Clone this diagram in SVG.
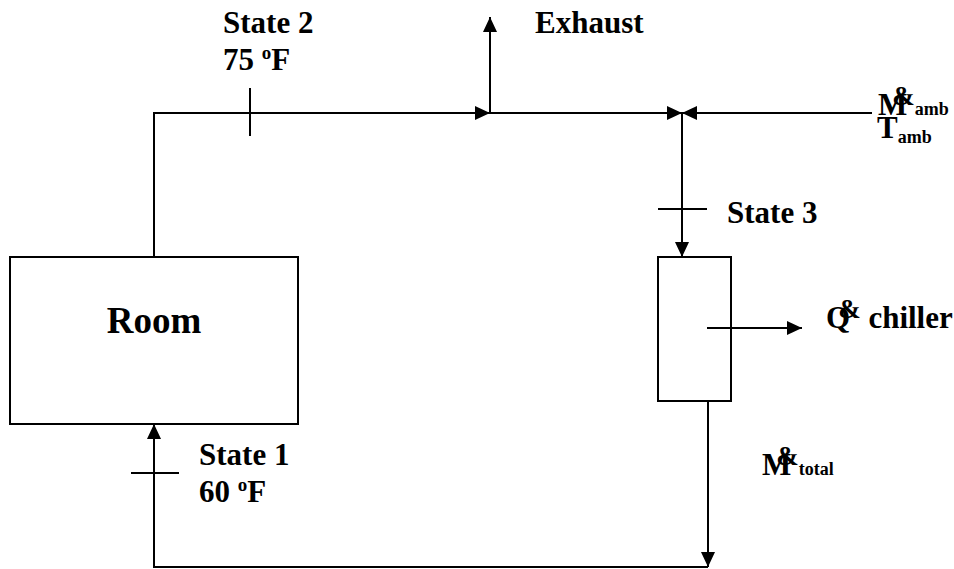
<svg xmlns="http://www.w3.org/2000/svg" width="954" height="569" viewBox="0 0 954 569">
  <style>
    .ln { fill: none; stroke: #000; stroke-width: 2; }
    .box { fill: #fff; stroke: #000; stroke-width: 2; }
    .big { font-size: 37px; }
    .sub { font-size: 18px; }
    .sup { font-size: 19px; }
    .dot { font-size: 27px; }
  </style>
  <defs>
    <marker id="ah" markerUnits="userSpaceOnUse" markerWidth="16" markerHeight="16" refX="15" refY="7" orient="auto">
      <path d="M0,0 L15,7 L0,14 Z" fill="#000"/>
    </marker>
  </defs>

  <!-- flow lines -->
  <g id="connectors">
    <path class="ln" d="M154,257 V113 H490" marker-end="url(#ah)"/>
    <path class="ln" d="M490,113 V17" marker-end="url(#ah)"/>
    <path class="ln" d="M490,113 H682" marker-end="url(#ah)"/>
    <path class="ln" d="M872,113 H682" marker-end="url(#ah)"/>
    <path class="ln" d="M682,113 V257" marker-end="url(#ah)"/>
    <path class="ln" d="M707,328 H802" marker-end="url(#ah)"/>
    <path class="ln" d="M708,401 V567" marker-end="url(#ah)"/>
    <path class="ln" d="M708,567 H154 V424" marker-end="url(#ah)"/>
    <!-- state markers -->
    <path class="ln" d="M250,88 V136"/>
    <path class="ln" d="M658,209 H707"/>
    <path class="ln" d="M131,473 H179"/>
  </g>

  <g font-family="'Liberation Serif', 'Times New Roman', Times, serif" font-weight="bold" font-size="31" fill="#000">
    <g id="room">
      <rect class="box" x="10" y="257" width="288" height="167"/>
      <text class="big" x="154" y="333" text-anchor="middle">Room</text>
    </g>

    <g id="chiller">
      <rect class="box" x="658" y="257" width="73" height="144"/>
      <path class="ln" d="M707,328 H731"/>
    </g>

    <g id="state2">
      <text x="223" y="33">State 2</text>
      <text x="223" y="70">75 <tspan class="sup" dy="-11">o</tspan><tspan dy="11">F</tspan></text>
    </g>

    <g id="exhaust">
      <text x="535" y="33">Exhaust</text>
    </g>

    <g id="ambient">
      <text x="878" y="115">M<tspan class="dot" dx="-15" dy="-10">&amp;</tspan><tspan class="sub" dx="0" dy="10">amb</tspan></text>
      <text x="877" y="138">T<tspan class="sub" dy="5">amb</tspan></text>
    </g>

    <g id="state3">
      <text x="727" y="223">State 3</text>
    </g>

    <g id="heat">
      <text x="826" y="328">Q<tspan class="dot" dx="-12" dy="-10">&amp;</tspan><tspan dy="10"> chiller</tspan></text>
    </g>

    <g id="state1">
      <text x="199" y="465">State 1</text>
      <text x="199" y="502">60 <tspan class="sup" dy="-11">o</tspan><tspan dy="11">F</tspan></text>
    </g>

    <g id="total">
      <text x="762" y="475">M<tspan class="dot" dx="-15" dy="-10">&amp;</tspan><tspan class="sub" dx="0" dy="10">total</tspan></text>
    </g>
  </g>
</svg>
